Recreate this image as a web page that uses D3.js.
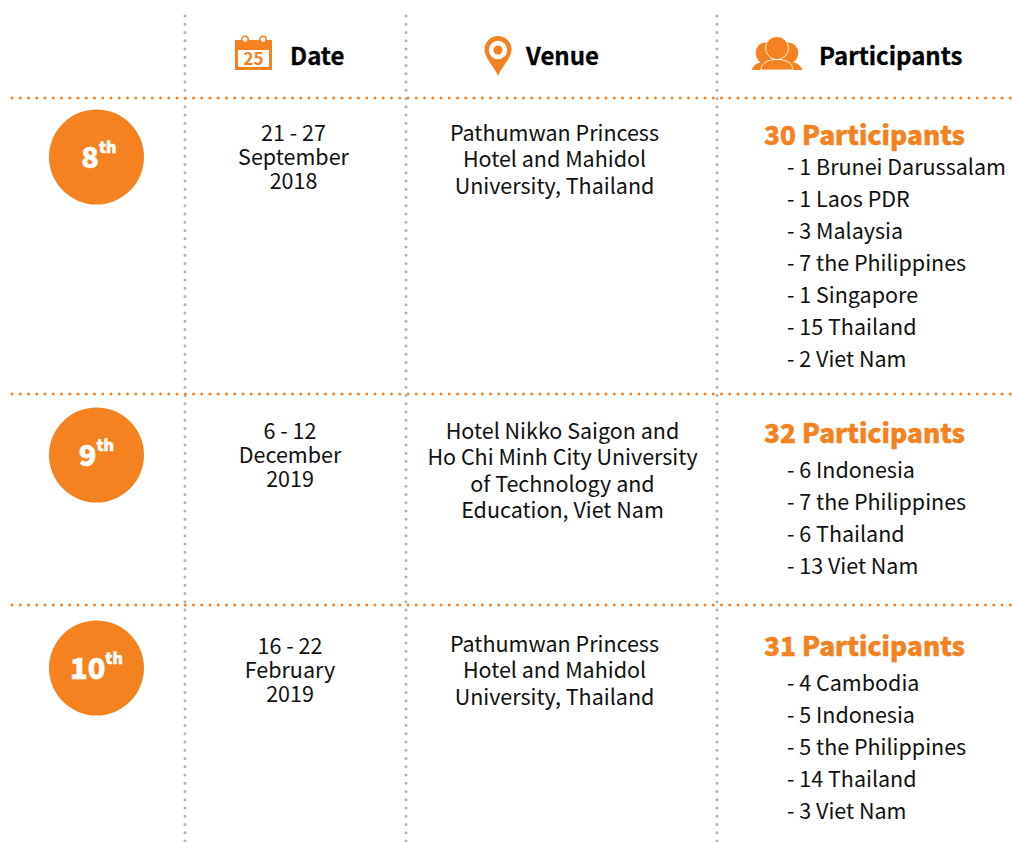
<!DOCTYPE html>
<html><head><meta charset="utf-8">
<script src="https://cdn.jsdelivr.net/npm/d3@7"></script>
<style>html,body{margin:0;background:#fff}svg{display:block}text{font-family:"Noto Sans CJK SC","Noto Sans",sans-serif}</style>
</head><body><svg id="c" width="1012" height="842"></svg>
<script>
const ORANGE="#f58220";
const headers=["Date","Venue","Participants"];
const headerX=[290,526,819];
const rounds=["8","9","10"];
const roundX=[99,96.5,96.5];
const rowLineY=[98,394,605];
const columnLineX=[185,406,717];
const circleY=[157,455,668];
const dates=[["21 - 27","September","2018"],["6 - 12","December","2019"],["16 - 22","February","2019"]];
const dateX=[293.5,290,290];
const dateY=[131,429,644];
const venues=[["Pathumwan Princess","Hotel and Mahidol","University, Thailand"],
["Hotel Nikko Saigon and","Ho Chi Minh City University","of Technology and","Education, Viet Nam"],
["Pathumwan Princess","Hotel and Mahidol","University, Thailand"]];
const venueX=[554.5,562.5,554.5];
const venueY=[131,429,642];
const totals=["30 Participants","32 Participants","31 Participants"];
const totalY=[133,431,644];
const countries=[["- 1 Brunei Darussalam","- 1 Laos PDR","- 3 Malaysia","- 7 the Philippines","- 1 Singapore","- 15 Thailand","- 2 Viet Nam"],
["- 6 Indonesia","- 7 the Philippines","- 6 Thailand","- 13 Viet Nam"],
["- 4 Cambodia","- 5 Indonesia","- 5 the Philippines","- 14 Thailand","- 3 Viet Nam"]];
const countryY=[165,468,681];

const svg=d3.select("#c");
svg.selectAll("line.v").data(columnLineX).join("line").attr("class","v")
 .attr("x1",d=>d).attr("x2",d=>d).attr("y1",16).attr("y2",842)
 .attr("stroke","#b3b3b3").attr("stroke-width",3).attr("stroke-linecap","round").attr("stroke-dasharray","0 8.25");
svg.selectAll("line.h").data(rowLineY).join("line").attr("class","h")
 .attr("x1",12).attr("x2",1011).attr("y1",d=>d).attr("y2",d=>d)
 .attr("stroke",ORANGE).attr("stroke-width",3).attr("stroke-linecap","round").attr("stroke-dasharray","0 8.25");

svg.selectAll("text.h").data(headers).join("text").attr("class","h")
 .attr("x",(d,i)=>headerX[i]).attr("y",54).attr("dominant-baseline","central")
 .attr("font-size",24).attr("font-weight",700).attr("fill","#000").attr("stroke","#000").attr("stroke-width",.3).text(d=>d);

const cal=svg.append("g").attr("transform","translate(235,36)");
cal.append("rect").attr("x",0).attr("y",4).attr("width",37).attr("height",30).attr("fill",ORANGE);
cal.append("rect").attr("x",3).attr("y",14).attr("width",31).attr("height",17).attr("fill","#fff");
cal.selectAll("circle").data([10,28]).join("circle").attr("cx",d=>d).attr("cy",3.5).attr("r",3.2).attr("fill","#fff").attr("stroke",ORANGE).attr("stroke-width",1.5);
cal.append("text").attr("x",18.5).attr("y",21).attr("text-anchor","middle").attr("dominant-baseline","central")
 .attr("font-size",17).attr("font-weight",700).attr("fill",ORANGE).text("25");

const pin=svg.append("g").attr("transform","translate(498,36)");
pin.append("path").attr("d","M0,40 C-4,30 -13.5,22 -13.5,13.5 A13.5,13.5 0 1 1 13.5,13.5 C13.5,22 4,30 0,40 Z").attr("fill",ORANGE);
pin.append("circle").attr("cy",14).attr("r",9.2).attr("fill","#fff");
pin.append("circle").attr("cy",14).attr("r",4.6).attr("fill",ORANGE);

const ppl=svg.append("g").attr("transform","translate(777,37)");
ppl.selectAll("ellipse.s").data([-11.5,11.5]).join("ellipse").attr("class","s")
 .attr("cx",d=>d).attr("cy",16).attr("rx",9.8).attr("ry",10.5).attr("fill",ORANGE);
ppl.append("path").attr("d","M-25.5,33 C-24,28 -18,25 -12,24 L12,24 C18,25 24,28 25.5,33 Z").attr("fill",ORANGE);
ppl.append("ellipse").attr("cy",11).attr("rx",11.5).attr("ry",11.5).attr("fill",ORANGE).attr("stroke","#fff").attr("stroke-width",.9);
ppl.append("path").attr("d","M-16,33 C-16,26 -9,22.5 0,22.5 C9,22.5 16,26 16,33 Z").attr("fill",ORANGE).attr("stroke","#fff").attr("stroke-width",.9);

const badge=svg.selectAll("g.b").data(rounds).join("g").attr("class","b")
 .attr("transform",(d,i)=>`translate(96.5,${circleY[i]})`);
badge.append("circle").attr("r",47.5).attr("fill",ORANGE);
const bt=badge.append("text").attr("text-anchor","middle").attr("x",(d,i)=>roundX[i]-96.5).attr("y",-2).attr("dominant-baseline","central")
 .attr("fill","#fff").attr("stroke","#fff").attr("stroke-width",.5).attr("font-weight",900);
bt.append("tspan").attr("font-size",29).text(d=>d);
bt.append("tspan").attr("font-size",16).attr("dy",-9).text("th");

const block=(rows,x,ys,lh,anchor,size,fill,weight,cls)=>{
 rows.forEach((lines,r)=>{
  svg.selectAll("text."+cls+r).data(lines).join("text").attr("class",cls+r)
   .attr("x",Array.isArray(x)?x[r]:x).attr("y",(d,i)=>ys[r]+i*lh).attr("dominant-baseline","central")
   .attr("text-anchor",anchor).attr("font-size",size).attr("fill",fill).attr("font-weight",weight).text(d=>d);
 });
};
block(dates,dateX,dateY,24,"middle",21.5,"#111",400,"d");
block(venues,venueX,venueY,26.5,"middle",21.5,"#111",400,"v");
block(totals.map(t=>[t]),764,totalY,0,"start",26.3,ORANGE,900,"t");
svg.selectAll("[class^=t]").attr("stroke",ORANGE).attr("stroke-width",.4);
block(countries,787,countryY,32,"start",21.5,"#111",400,"c");
</script></body></html>
